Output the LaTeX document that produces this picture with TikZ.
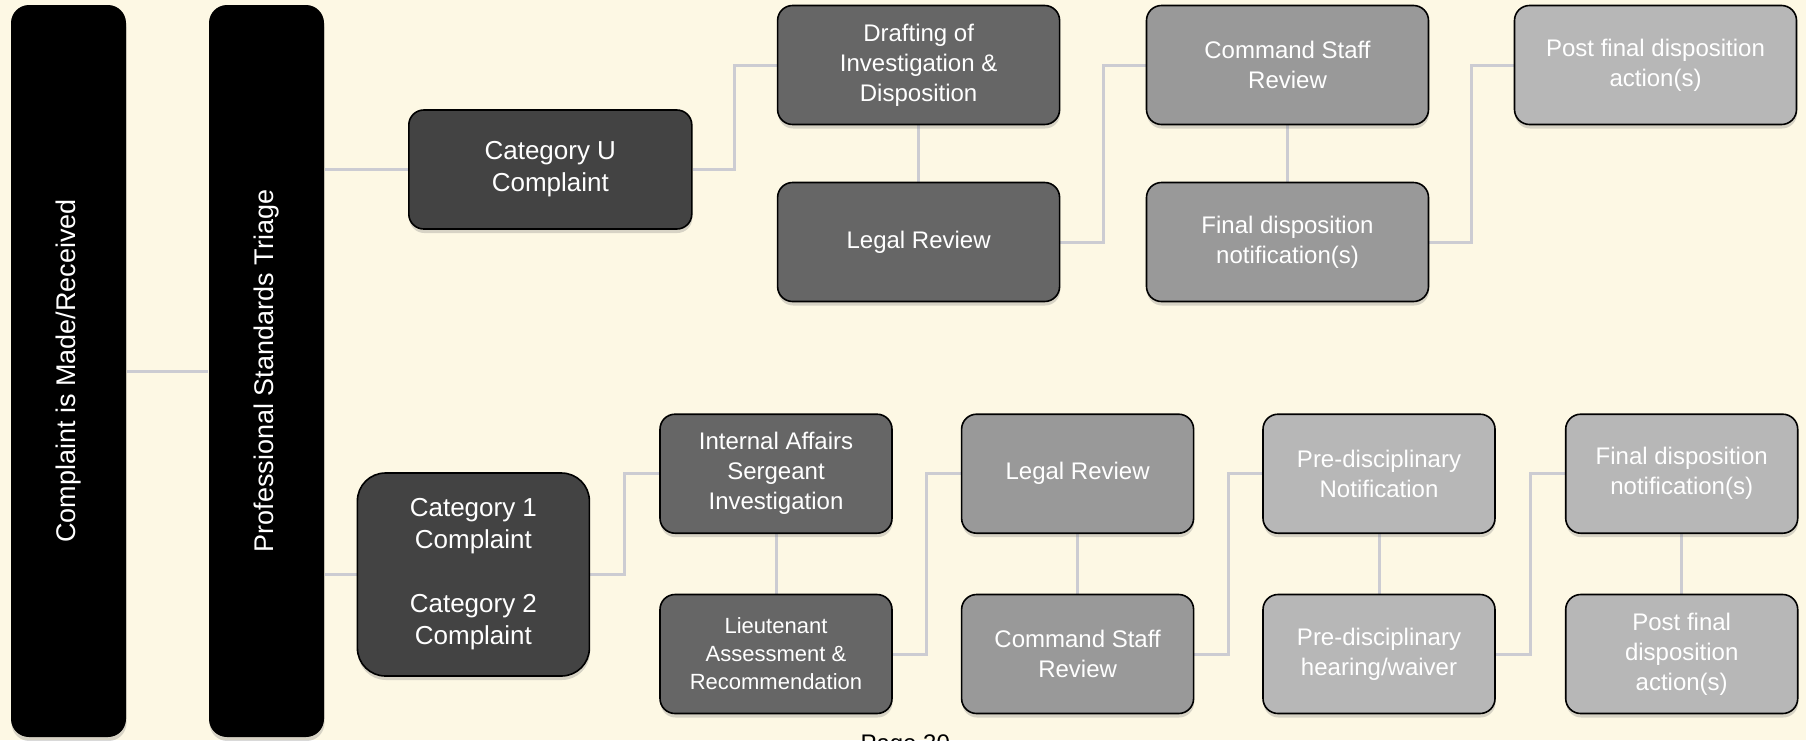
\documentclass[tikz,border=0pt]{standalone}
\usepackage{fontspec}
\setmainfont{Liberation Sans}
\usetikzlibrary{calc, shadows, backgrounds}
\definecolor{PageCream}{RGB}{253,248,228}
\definecolor{LinkGrey}{RGB}{204,204,210}
\definecolor{BoxDark}{HTML}{434343}
\definecolor{BoxMid}{HTML}{666666}
\definecolor{BoxLight}{HTML}{999999}
\definecolor{BoxPale}{HTML}{B7B7B7}

\tikzset{
  card/.style={draw=black, line width=1.6pt, rounded corners=15pt, text=white,
               align=center, inner sep=0pt, font=\fontsize{24}{30}\selectfont,
               drop shadow={shadow xshift=0.5pt, shadow yshift=-4pt, opacity=0.3}},
  widecard/.style={card, minimum width=282pt, minimum height=119pt},
  narrowcard/.style={card, minimum width=232pt, minimum height=119pt},
  bar/.style={card, draw=none, fill=black, rotate=90, rounded corners=18pt,
              minimum width=732pt, minimum height=115pt,
              font=\fontsize{27}{32}\selectfont},
  link/.style={draw=LinkGrey, line width=3pt},
}

\begin{document}
\begin{tikzpicture}[x=1pt, y=-1pt]
  \useasboundingbox (0,0) rectangle (1806,740);
  \begin{scope}[on background layer]
    \fill[PageCream] (0,0) rectangle (1806,740);
  \end{scope}

  % intake columns
  \node[bar] (made) at (68.5,371) {Complaint is Made/Received};
  \node[bar] (triage) at (266.5,371) {Professional Standards Triage};

  % category U track
  \node[widecard, fill=BoxDark, minimum width=283pt,
        font=\fontsize{26}{32}\selectfont] (catu) at (550.3,169.5) {Category U\\Complaint};
  \node[widecard, fill=BoxMid] (draft) at (918.6,65) {Drafting of\\Investigation \&\\Disposition};
  \node[widecard, fill=BoxMid] (legalu) at (918.6,242) {Legal Review};
  \node[widecard, fill=BoxLight] (staffu) at (1287.5,65) {Command Staff\\Review};
  \node[widecard, fill=BoxLight] (notifu) at (1287.5,242) {Final disposition\\notification(s)};
  \node[widecard, fill=BoxPale] (postu) at (1655.5,65) {Post final disposition\\action(s)};

  % category 1/2 track
  \node[narrowcard, fill=BoxDark, minimum height=203pt, rounded corners=28pt,
        font=\fontsize{26}{32}\selectfont] (cat12) at (473.4,574.5)
        {Category 1\\Complaint\\[32pt]Category 2\\Complaint};
  \node[narrowcard, fill=BoxMid] (iasgt) at (776,473.7) {Internal Affairs\\Sergeant\\Investigation};
  \node[narrowcard, fill=BoxMid, font=\fontsize{22}{28}\selectfont] (lieut) at (776,654)
        {Lieutenant\\Assessment \&\\Recommendation};
  \node[narrowcard, fill=BoxLight] (legal12) at (1077.6,473.7) {Legal Review};
  \node[narrowcard, fill=BoxLight] (staff12) at (1077.6,654) {Command Staff\\Review};
  \node[narrowcard, fill=BoxPale] (prenote) at (1379,473.7) {Pre-disciplinary\\Notification};
  \node[narrowcard, fill=BoxPale] (prehear) at (1379,654) {Pre-disciplinary\\hearing/waiver};
  \node[narrowcard, fill=BoxPale] (notif12) at (1681.7,473.7) {Final disposition\\notification(s)};
  \node[narrowcard, fill=BoxPale] (post12) at (1681.7,654) {Post final\\disposition\\action(s)};

  \node[anchor=base west, font=\fontsize{24}{28}\selectfont] (page) at (857,751) {Page 30};

  % connectors
  \begin{scope}[on background layer]
    \draw[link] (made.south) -- (triage.north);
    \draw[link] (catu.west) -- (catu.west -| triage.south);
    \draw[link] (cat12.west) -- (cat12.west -| triage.south);
    \draw[link] (catu.east) -| ($(catu.east)!.5!(draft.west)$) |- (draft.west);
    \draw[link] (draft.south) -- (legalu.north);
    \draw[link] (legalu.east) -| ($(legalu.east)!.5!(staffu.west)$) |- (staffu.west);
    \draw[link] (staffu.south) -- (notifu.north);
    \draw[link] (notifu.east) -| ($(notifu.east)!.5!(postu.west)$) |- (postu.west);
    \draw[link] (cat12.east) -| ($(cat12.east)!.5!(iasgt.west)$) |- (iasgt.west);
    \draw[link] (iasgt.south) -- (lieut.north);
    \draw[link] (lieut.east) -| ($(lieut.east)!.5!(legal12.west)$) |- (legal12.west);
    \draw[link] (legal12.south) -- (staff12.north);
    \draw[link] (staff12.east) -| ($(staff12.east)!.5!(prenote.west)$) |- (prenote.west);
    \draw[link] (prenote.south) -- (prehear.north);
    \draw[link] (prehear.east) -| ($(prehear.east)!.5!(notif12.west)$) |- (notif12.west);
    \draw[link] (notif12.south) -- (post12.north);
  \end{scope}
\end{tikzpicture}
\end{document}
